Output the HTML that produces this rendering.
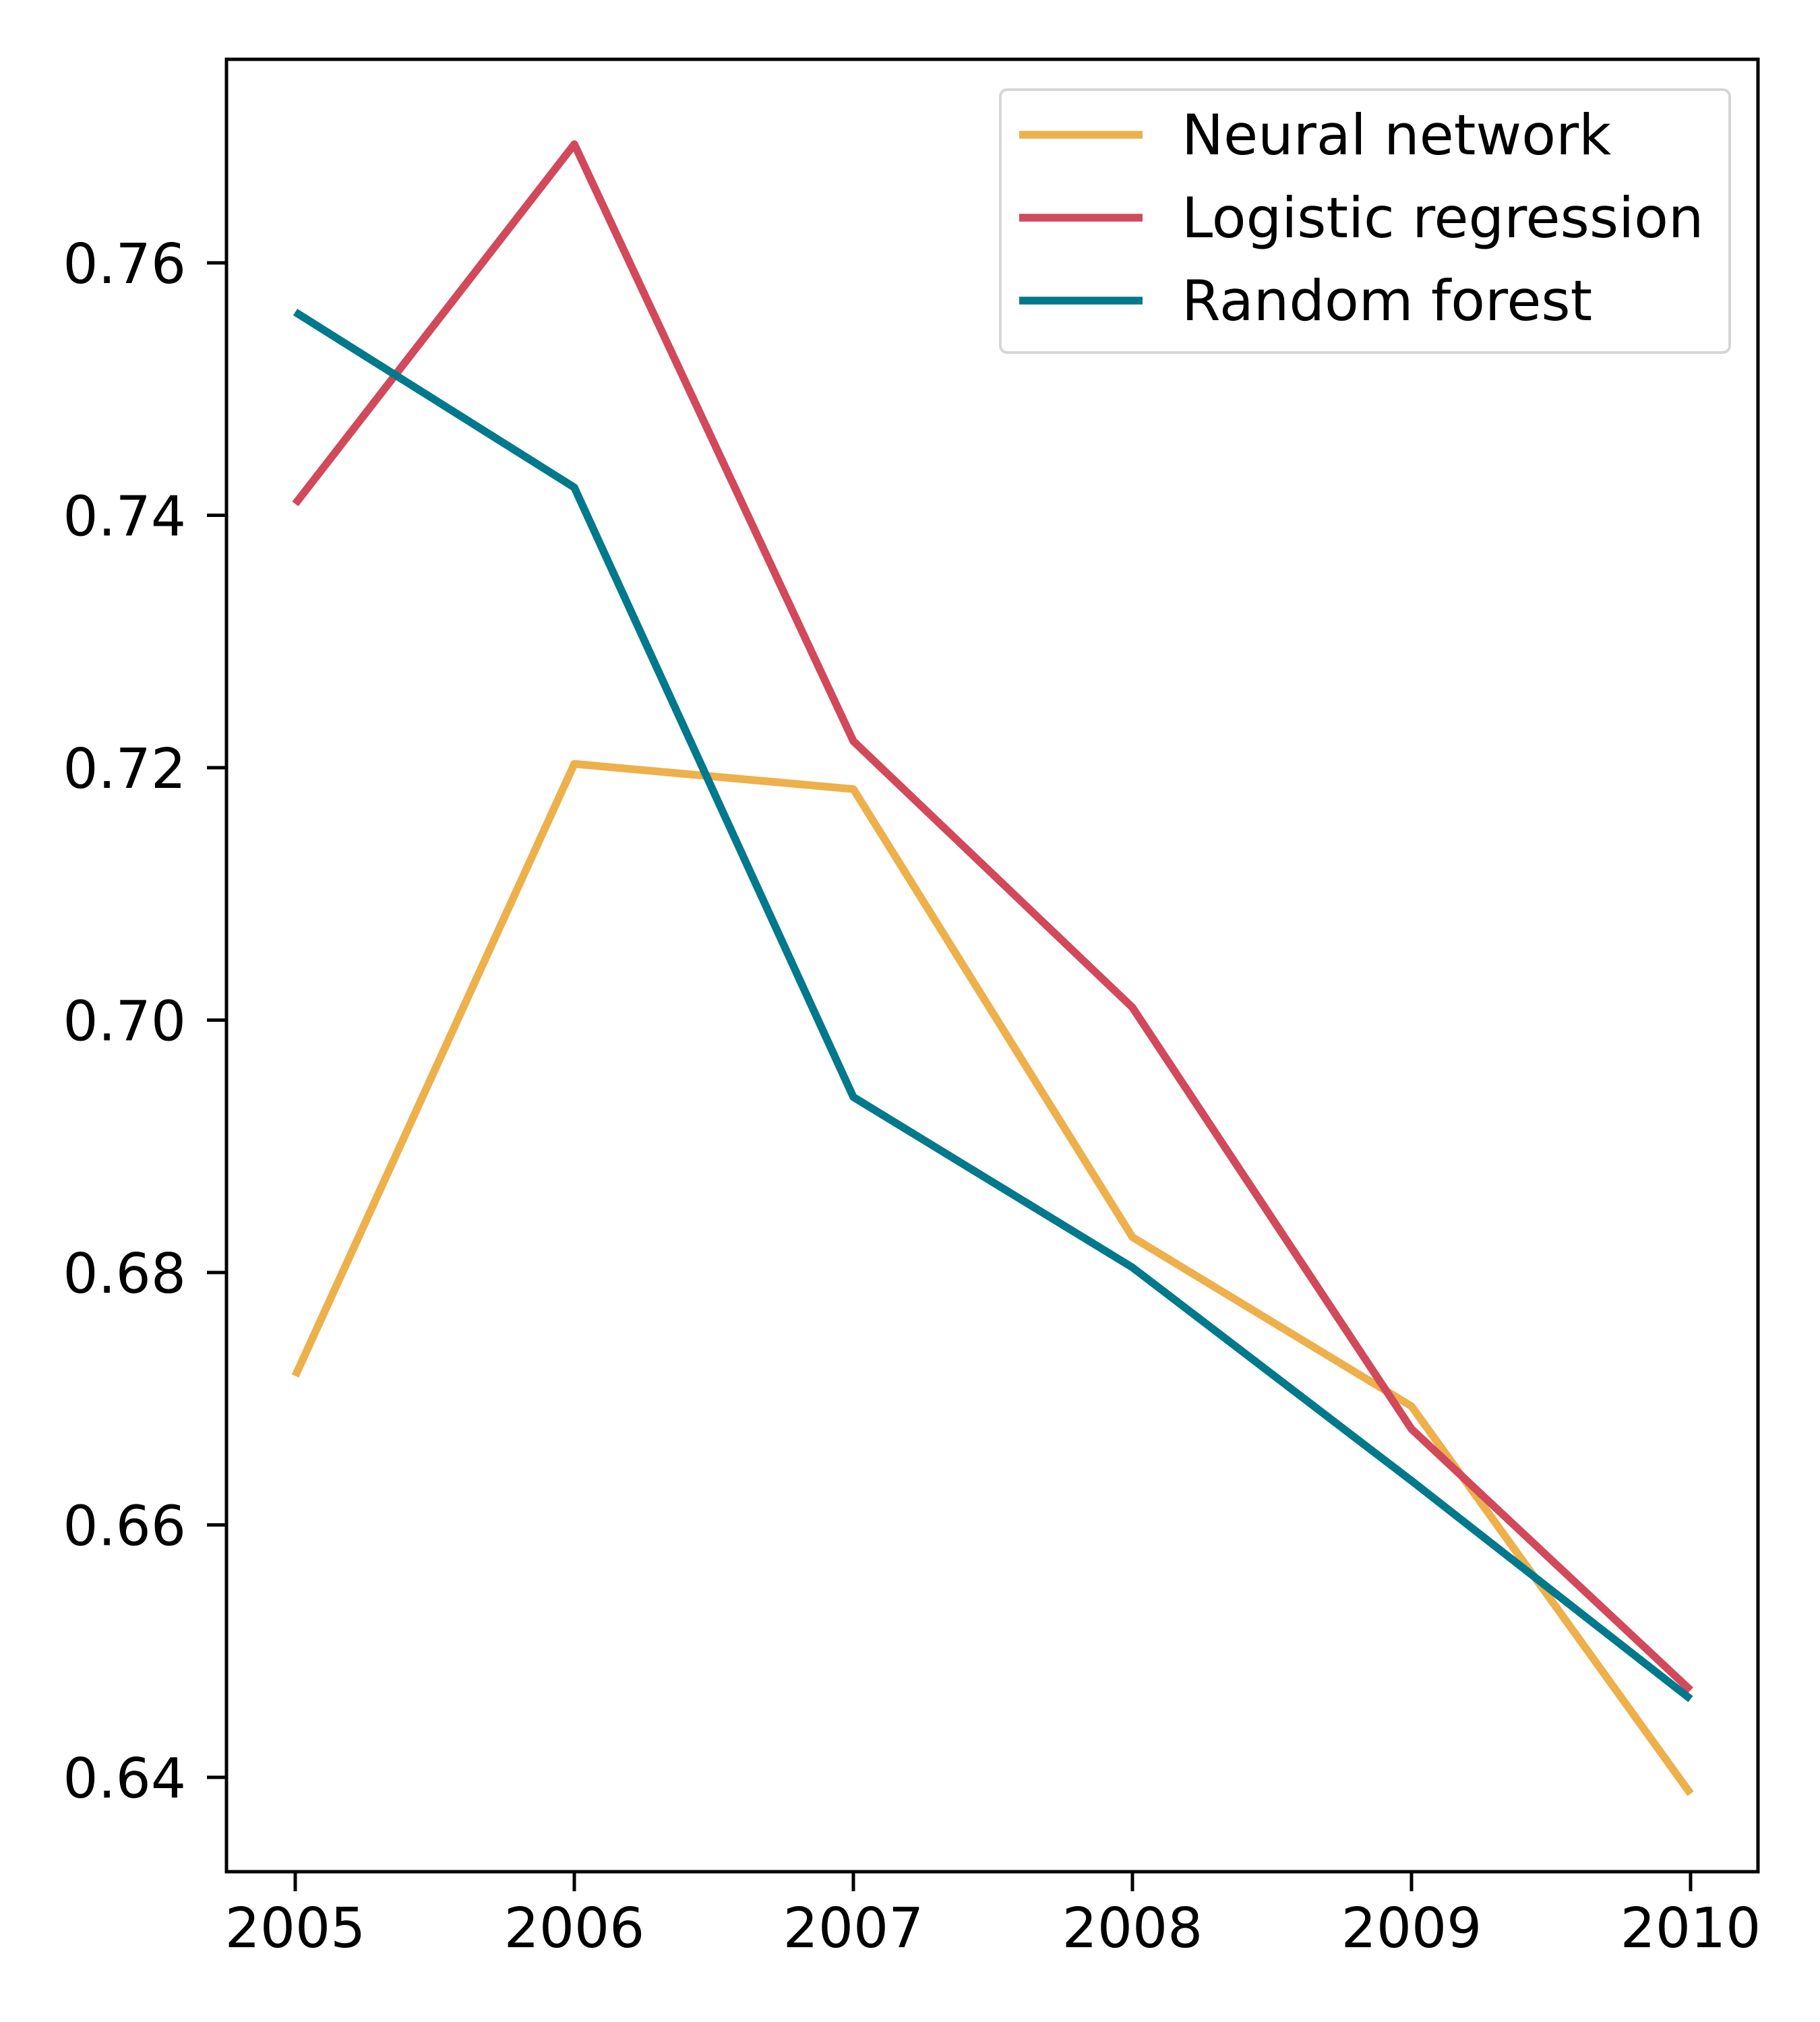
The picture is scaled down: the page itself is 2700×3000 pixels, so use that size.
<!DOCTYPE html>
<html><head><meta charset="utf-8"><style>
html,body{margin:0;padding:0;background:#fff;}
svg{display:block;font-family:"DejaVu Sans","Liberation Sans",sans-serif;}
</style></head><body>
<svg id="chart" width="2700" height="3000" viewBox="0 0 2700 3000" xmlns="http://www.w3.org/2000/svg">
<rect x="0" y="0" width="2700" height="3000" fill="#fff"/>
<g id="plot"></g>
</svg>
<script>
const years = [2005, 2006, 2007, 2008, 2009, 2010];
const yTicks = [0.64, 0.66, 0.68, 0.70, 0.72, 0.74, 0.76];
const yTickLabels = ["0.64", "0.66", "0.68", "0.70", "0.72", "0.74", "0.76"];
const seriesNames = ["Neural network", "Logistic regression", "Random forest"];
const neuralNetwork = [0.6718, 0.7203, 0.7183, 0.6828, 0.6694, 0.6387];
const logisticRegression = [0.7409, 0.7694, 0.7221, 0.7010, 0.6676, 0.6469];
const randomForest = [0.7561, 0.7422, 0.6939, 0.6804, 0.6635, 0.6462];

const NS = "http://www.w3.org/2000/svg";
const L = 336, R = 2608, T = 88, B = 2777;
function xScale(v){ return 438 + (v - 2005) * (2508 - 438) / 5; }
function yScale(v){ return 390 + (0.76 - v) * (2637 - 390) / 0.12; }
const g = document.getElementById('plot');
function mk(tag, attrs){ const e = document.createElementNS(NS, tag); for (const k in attrs) e.setAttribute(k, attrs[k]); g.appendChild(e); return e; }

const colors = ["#edb04b", "#d1495b", "#00798c"];
const data = [neuralNetwork, logisticRegression, randomForest];
const keys = ["neural-network", "logistic-regression", "random-forest"];
data.forEach((s, i) => {
  const pts = s.map((v, j) => xScale(years[j]) + "," + yScale(v)).join(" ");
  const pl = mk('polyline', {points: pts, fill: "none", stroke: colors[i], "stroke-width": 11.5, "stroke-linejoin": "round"});
  
  
});

const frame = mk('rect', {x: L, y: T, width: R - L, height: B - T, fill: "none", stroke: "#000", "stroke-width": 5});



years.forEach(y => {
  const x = xScale(y);
  const t = mk('line', {x1: x, x2: x, y1: B, y2: B + 29, stroke: "#000", "stroke-width": 5});
  
  
  const tx = mk('text', {x: x, y: B + 112, "font-size": 82, "text-anchor": "middle", fill: "#000"});
  tx.textContent = String(y);
  
  
});
yTicks.forEach((v, i) => {
  const y = yScale(v);
  const t = mk('line', {x1: L - 29, x2: L, y1: y, y2: y, stroke: "#000", "stroke-width": 5});
  
  
  const tx = mk('text', {x: L - 60, y: y + 30, "font-size": 82, "text-anchor": "end", fill: "#000"});
  tx.textContent = yTickLabels[i];
  
  
});

const lg = mk('rect', {x: 1484, y: 133, width: 1082, height: 390, rx: 10, fill: "#fff", "fill-opacity": 0.8, stroke: "#d6d6d6", "stroke-width": 4});


seriesNames.forEach((n, i) => {
  const y = 200 + i * 123;
  const ln = mk('line', {x1: 1512, x2: 1695, y1: y, y2: y, stroke: colors[i], "stroke-width": 11.5});
  
  
  const tx = mk('text', {x: 1753, y: y + 29, "font-size": 83, fill: "#000"});
  tx.textContent = n;
  
  
});
</script>
</body></html>
